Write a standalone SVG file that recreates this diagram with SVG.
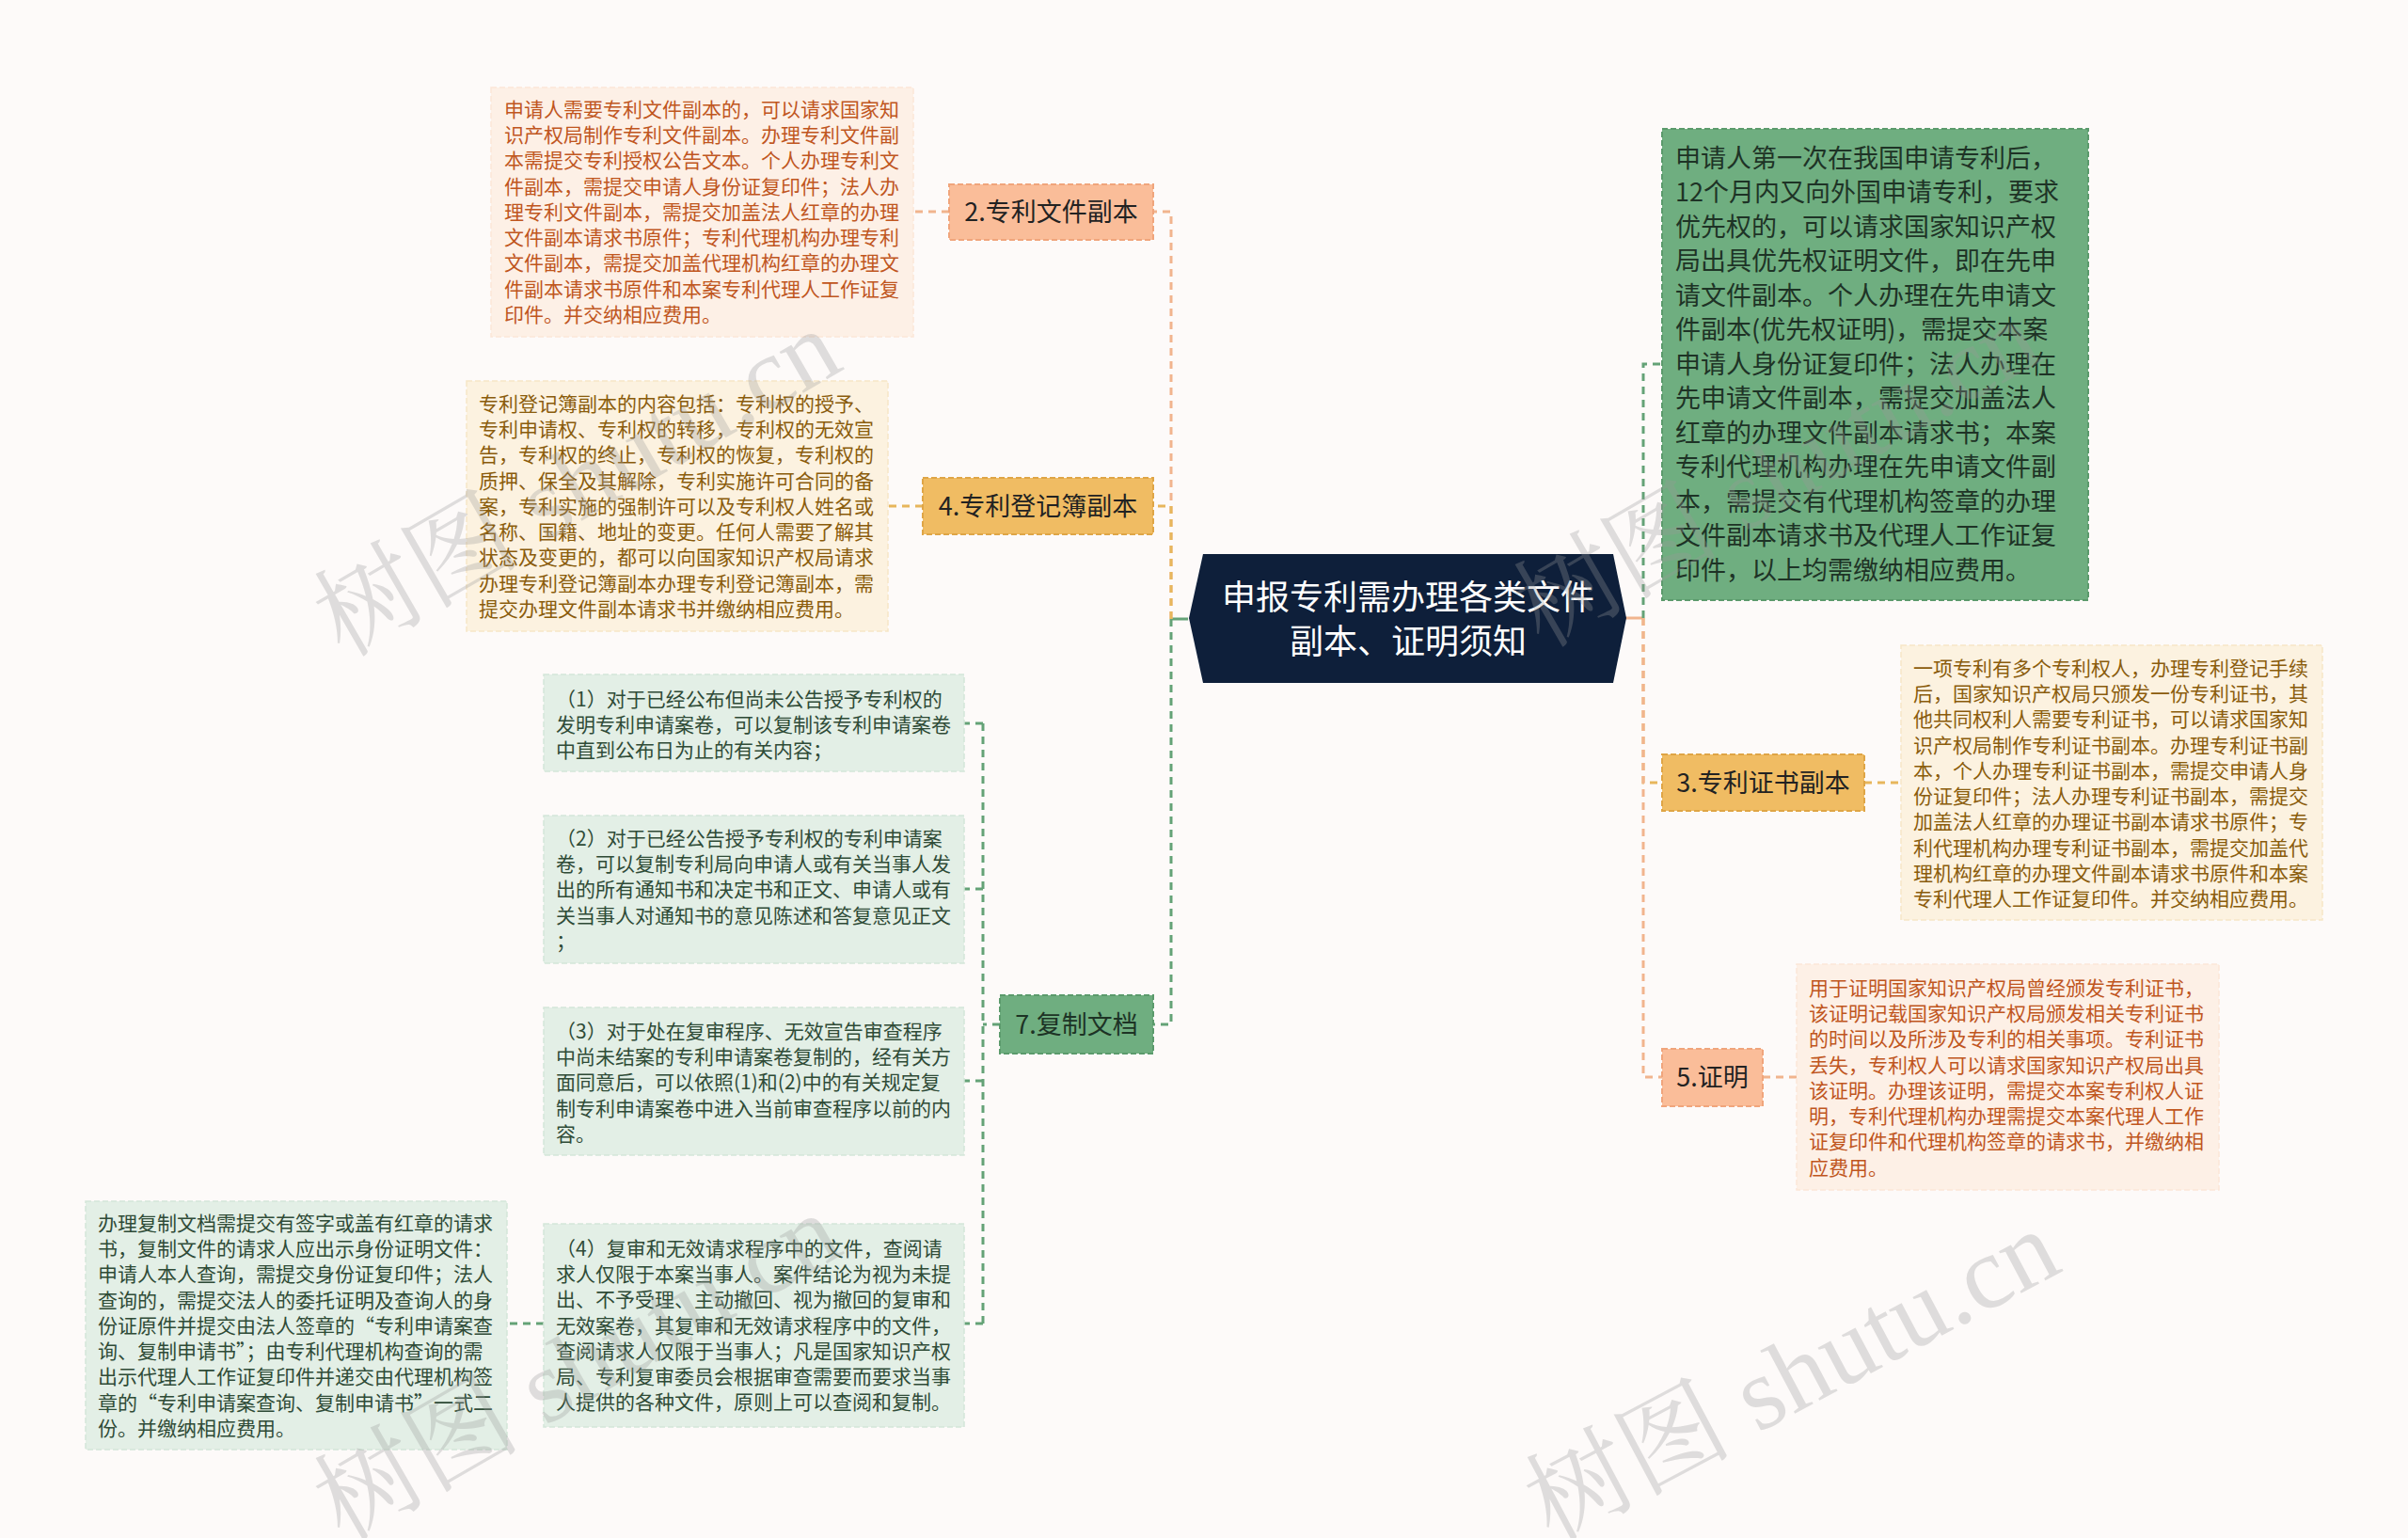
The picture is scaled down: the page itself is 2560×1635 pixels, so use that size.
<svg xmlns="http://www.w3.org/2000/svg" width="2560" height="1635" viewBox="0 0 2560 1635">
<style>
text{font-family:"Noto Sans CJK SC","Noto Sans",sans-serif;}
.bg{fill:#fdfaf9;}
.center{fill:#0e1f3a;}
.ctext{fill:#ffffff;font-size:36px;text-anchor:middle;}
.peach{fill:#fabd99;stroke:#f0a57c;stroke-width:2;stroke-dasharray:6 3;}
.gold{fill:#f0bc63;stroke:#dfa546;stroke-width:2;stroke-dasharray:6 3;}
.green{fill:#6fae80;stroke:#5b9a6c;stroke-width:2;stroke-dasharray:6 3;}
.lbl{font-size:27px;fill:#222222;text-anchor:middle;}
.lblg{font-size:27px;fill:#1d3325;text-anchor:middle;}
.bpeach{fill:#fdf0e6;stroke:#fbe6d8;stroke-width:1.5;stroke-dasharray:6 3;}
.bgold{fill:#fcf2e0;stroke:#f6e6c6;stroke-width:1.5;stroke-dasharray:6 3;}
.bgreen{fill:#e3efe6;stroke:#d4e6d9;stroke-width:1.5;stroke-dasharray:6 3;}
.tpeach{font-size:21px;fill:#c0561e;}
.tgold{font-size:21px;fill:#8a5c0c;}
.tgreen{font-size:21px;fill:#2f4b37;}
.tbig{font-size:27px;fill:#1e3326;}
.cp{fill:none;stroke:#f1b48e;stroke-width:3;}
.cg{fill:none;stroke:#e7b65c;stroke-width:3;}
.cn{fill:none;stroke:#64a277;stroke-width:3;}
.dash{stroke-dasharray:8 6;}
.wm{font-family:"Liberation Serif","Noto Serif CJK SC","Noto Sans CJK SC",serif;font-size:110px;fill:#9a9a9a;opacity:0.3;}
</style>
<rect class="bg" x="0" y="0" width="2560" height="1635"/>

<g id="connectors">
  <path class="cn" d="M1263 658 H1245"/>
  <path class="cp dash" d="M1245 658 V225 H1226"/>
  <path class="cg dash" d="M1245 658 V538 H1226"/>
  <path class="cn dash" d="M1245 658 V1089 H1226"/>
  <path class="cp dash" d="M1009 225 H971"/>
  <path class="cg dash" d="M981 538 H944"/>
  <path class="cn dash" d="M1063 1089 H1045"/>
  <path class="cn dash" d="M1045 769 V1407"/>
  <path class="cn dash" d="M1045 769 H1025"/>
  <path class="cn dash" d="M1045 945 H1025"/>
  <path class="cn dash" d="M1045 1149 H1025"/>
  <path class="cn dash" d="M1045 1407 H1025"/>
  <path class="cn dash" d="M578 1407 H539"/>
  <path class="cp" d="M1728 657 H1747"/>
  <path class="cn dash" d="M1747 657 V387 H1767"/>
  <path class="cg dash" d="M1747 657 V832 H1767"/>
  <path class="cp dash" d="M1747 657 V1145 H1767"/>
  <path class="cg dash" d="M1982 832 H2021"/>
  <path class="cp dash" d="M1874 1145 H1910"/>
</g>

<g id="root">
  <polygon class="center" points="1279,589 1715,589 1729,657 1715,726 1279,726 1264,657"/>
  <text class="ctext" x="1497" y="648">申报专利需办理各类文件</text>
  <text class="ctext" x="1497" y="695">副本、证明须知</text>
</g>

<g id="n2">
  <rect class="peach" x="1009" y="196" width="217" height="59"/>
  <text class="lbl" x="1117.5" y="235">2.专利文件副本</text>
</g>
<g id="n2-detail">
  <rect class="bpeach" x="522" y="93" width="449" height="265"/>
  <text class="tpeach" x="536" y="123.6">
    <tspan x="536" dy="0">申请人需要专利文件副本的，可以请求国家知</tspan>
    <tspan x="536" dy="27.3">识产权局制作专利文件副本。办理专利文件副</tspan>
    <tspan x="536" dy="27.3">本需提交专利授权公告文本。个人办理专利文</tspan>
    <tspan x="536" dy="27.3">件副本，需提交申请人身份证复印件；法人办</tspan>
    <tspan x="536" dy="27.3">理专利文件副本，需提交加盖法人红章的办理</tspan>
    <tspan x="536" dy="27.3">文件副本请求书原件；专利代理机构办理专利</tspan>
    <tspan x="536" dy="27.3">文件副本，需提交加盖代理机构红章的办理文</tspan>
    <tspan x="536" dy="27.3">件副本请求书原件和本案专利代理人工作证复</tspan>
    <tspan x="536" dy="27.3">印件。并交纳相应费用。</tspan>
  </text>
</g>

<g id="n4">
  <rect class="gold" x="981" y="508" width="245" height="60"/>
  <text class="lbl" x="1103.5" y="547.5">4.专利登记簿副本</text>
</g>
<g id="n4-detail">
  <rect class="bgold" x="496" y="405" width="448" height="266"/>
  <text class="tgold" x="509" y="436.6">
    <tspan x="509" dy="0">专利登记簿副本的内容包括：专利权的授予、</tspan>
    <tspan x="509" dy="27.3">专利申请权、专利权的转移，专利权的无效宣</tspan>
    <tspan x="509" dy="27.3">告，专利权的终止，专利权的恢复，专利权的</tspan>
    <tspan x="509" dy="27.3">质押、保全及其解除，专利实施许可合同的备</tspan>
    <tspan x="509" dy="27.3">案，专利实施的强制许可以及专利权人姓名或</tspan>
    <tspan x="509" dy="27.3">名称、国籍、地址的变更。任何人需要了解其</tspan>
    <tspan x="509" dy="27.3">状态及变更的，都可以向国家知识产权局请求</tspan>
    <tspan x="509" dy="27.3">办理专利登记簿副本办理专利登记簿副本，需</tspan>
    <tspan x="509" dy="27.3">提交办理文件副本请求书并缴纳相应费用。</tspan>
  </text>
</g>

<g id="n7">
  <rect class="green" x="1063" y="1058" width="163" height="62"/>
  <text class="lblg" x="1144.5" y="1098.5">7.复制文档</text>
</g>
<g id="n7-1">
  <rect class="bgreen" x="578" y="717" width="447" height="103"/>
  <text class="tgreen" x="591" y="750.6">
    <tspan x="591" dy="0">（1）对于已经公布但尚未公告授予专利权的</tspan>
    <tspan x="591" dy="27.3">发明专利申请案卷，可以复制该专利申请案卷</tspan>
    <tspan x="591" dy="27.3">中直到公布日为止的有关内容；</tspan>
  </text>
</g>
<g id="n7-2">
  <rect class="bgreen" x="578" y="867" width="447" height="157"/>
  <text class="tgreen" x="591" y="898.6">
    <tspan x="591" dy="0">（2）对于已经公告授予专利权的专利申请案</tspan>
    <tspan x="591" dy="27.3">卷，可以复制专利局向申请人或有关当事人发</tspan>
    <tspan x="591" dy="27.3">出的所有通知书和决定书和正文、申请人或有</tspan>
    <tspan x="591" dy="27.3">关当事人对通知书的意见陈述和答复意见正文</tspan>
    <tspan x="591" dy="27.3">；</tspan>
  </text>
</g>
<g id="n7-3">
  <rect class="bgreen" x="578" y="1071" width="447" height="157"/>
  <text class="tgreen" x="591" y="1103.6">
    <tspan x="591" dy="0">（3）对于处在复审程序、无效宣告审查程序</tspan>
    <tspan x="591" dy="27.3">中尚未结案的专利申请案卷复制的，经有关方</tspan>
    <tspan x="591" dy="27.3">面同意后，可以依照(1)和(2)中的有关规定复</tspan>
    <tspan x="591" dy="27.3">制专利申请案卷中进入当前审查程序以前的内</tspan>
    <tspan x="591" dy="27.3">容。</tspan>
  </text>
</g>
<g id="n7-4">
  <rect class="bgreen" x="578" y="1301" width="447" height="216"/>
  <text class="tgreen" x="591" y="1334.6">
    <tspan x="591" dy="0">（4）复审和无效请求程序中的文件，查阅请</tspan>
    <tspan x="591" dy="27.3">求人仅限于本案当事人。案件结论为视为未提</tspan>
    <tspan x="591" dy="27.3">出、不予受理、主动撤回、视为撤回的复审和</tspan>
    <tspan x="591" dy="27.3">无效案卷，其复审和无效请求程序中的文件，</tspan>
    <tspan x="591" dy="27.3">查阅请求人仅限于当事人；凡是国家知识产权</tspan>
    <tspan x="591" dy="27.3">局、专利复审委员会根据审查需要而要求当事</tspan>
    <tspan x="591" dy="27.3">人提供的各种文件，原则上可以查阅和复制。</tspan>
  </text>
</g>
<g id="n7-4-1">
  <rect class="bgreen" x="91" y="1277" width="448" height="264"/>
  <text class="tgreen" x="104" y="1307.6">
    <tspan x="104" dy="0">办理复制文档需提交有签字或盖有红章的请求</tspan>
    <tspan x="104" dy="27.3">书，复制文件的请求人应出示身份证明文件：</tspan>
    <tspan x="104" dy="27.3">申请人本人查询，需提交身份证复印件；法人</tspan>
    <tspan x="104" dy="27.3">查询的，需提交法人的委托证明及查询人的身</tspan>
    <tspan x="104" dy="27.3">份证原件并提交由法人签章的“专利申请案查</tspan>
    <tspan x="104" dy="27.3">询、复制申请书”；由专利代理机构查询的需</tspan>
    <tspan x="104" dy="27.3">出示代理人工作证复印件并递交由代理机构签</tspan>
    <tspan x="104" dy="27.3">章的“专利申请案查询、复制申请书”一式二</tspan>
    <tspan x="104" dy="27.3">份。并缴纳相应费用。</tspan>
  </text>
</g>

<g id="n1">
  <rect class="green" x="1767" y="137" width="453" height="501"/>
  <text class="tbig" x="1781" y="177.7">
    <tspan x="1781" dy="0">申请人第一次在我国申请专利后，</tspan>
    <tspan x="1781" dy="36.5">12个月内又向外国申请专利，要求</tspan>
    <tspan x="1781" dy="36.5">优先权的，可以请求国家知识产权</tspan>
    <tspan x="1781" dy="36.5">局出具优先权证明文件，即在先申</tspan>
    <tspan x="1781" dy="36.5">请文件副本。个人办理在先申请文</tspan>
    <tspan x="1781" dy="36.5">件副本(优先权证明)，需提交本案</tspan>
    <tspan x="1781" dy="36.5">申请人身份证复印件；法人办理在</tspan>
    <tspan x="1781" dy="36.5">先申请文件副本，需提交加盖法人</tspan>
    <tspan x="1781" dy="36.5">红章的办理文件副本请求书；本案</tspan>
    <tspan x="1781" dy="36.5">专利代理机构办理在先申请文件副</tspan>
    <tspan x="1781" dy="36.5">本，需提交有代理机构签章的办理</tspan>
    <tspan x="1781" dy="36.5">文件副本请求书及代理人工作证复</tspan>
    <tspan x="1781" dy="36.5">印件，以上均需缴纳相应费用。</tspan>
  </text>
</g>

<g id="n3">
  <rect class="gold" x="1767" y="802" width="215" height="60"/>
  <text class="lbl" x="1874.5" y="841.5">3.专利证书副本</text>
</g>
<g id="n3-detail">
  <rect class="bgold" x="2021" y="686" width="448" height="292"/>
  <text class="tgold" x="2034" y="717.6">
    <tspan x="2034" dy="0">一项专利有多个专利权人，办理专利登记手续</tspan>
    <tspan x="2034" dy="27.3">后，国家知识产权局只颁发一份专利证书，其</tspan>
    <tspan x="2034" dy="27.3">他共同权利人需要专利证书，可以请求国家知</tspan>
    <tspan x="2034" dy="27.3">识产权局制作专利证书副本。办理专利证书副</tspan>
    <tspan x="2034" dy="27.3">本，个人办理专利证书副本，需提交申请人身</tspan>
    <tspan x="2034" dy="27.3">份证复印件；法人办理专利证书副本，需提交</tspan>
    <tspan x="2034" dy="27.3">加盖法人红章的办理证书副本请求书原件；专</tspan>
    <tspan x="2034" dy="27.3">利代理机构办理专利证书副本，需提交加盖代</tspan>
    <tspan x="2034" dy="27.3">理机构红章的办理文件副本请求书原件和本案</tspan>
    <tspan x="2034" dy="27.3">专利代理人工作证复印件。并交纳相应费用。</tspan>
  </text>
</g>

<g id="n5">
  <rect class="peach" x="1767" y="1115" width="107" height="61"/>
  <text class="lbl" x="1820.5" y="1155">5.证明</text>
</g>
<g id="n5-detail">
  <rect class="bpeach" x="1910" y="1025" width="449" height="240"/>
  <text class="tpeach" x="1923" y="1057.6">
    <tspan x="1923" dy="0">用于证明国家知识产权局曾经颁发专利证书，</tspan>
    <tspan x="1923" dy="27.3">该证明记载国家知识产权局颁发相关专利证书</tspan>
    <tspan x="1923" dy="27.3">的时间以及所涉及专利的相关事项。专利证书</tspan>
    <tspan x="1923" dy="27.3">丢失，专利权人可以请求国家知识产权局出具</tspan>
    <tspan x="1923" dy="27.3">该证明。办理该证明，需提交本案专利权人证</tspan>
    <tspan x="1923" dy="27.3">明，专利代理机构办理需提交本案代理人工作</tspan>
    <tspan x="1923" dy="27.3">证复印件和代理机构签章的请求书，并缴纳相</tspan>
    <tspan x="1923" dy="27.3">应费用。</tspan>
  </text>
</g>

<g id="watermarks">
  <text class="wm" transform="translate(365 700) rotate(-30)">树图 shutu.cn</text>
  <text class="wm" transform="translate(1640 690) rotate(-30)">树图 shutu.cn</text>
  <text class="wm" transform="translate(365 1640) rotate(-30)">树图 shutu.cn</text>
  <text class="wm" transform="translate(1650 1640) rotate(-28)">树图 shutu.cn</text>
</g>
</svg>
